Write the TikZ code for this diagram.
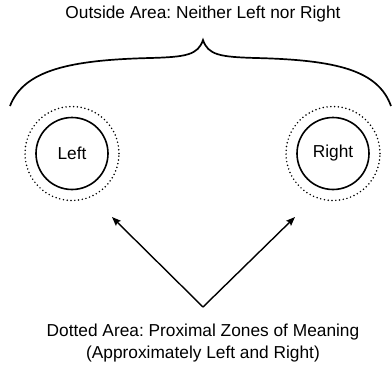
\documentclass[tikz,border=0pt]{standalone}
\usepackage{fontspec}
\setmainfont{Liberation Sans}
\usepackage{tikz}
\usetikzlibrary{arrows.meta,calc}
\frenchspacing
\tikzset{
  zone/.style ={circle, draw=black, line width=1.6pt, minimum size=72pt, inner sep=0pt,
                font=\fontsize{17.3}{21}\selectfont},
  prox/.style ={circle, draw=black, line width=1.7pt, dash pattern=on 0pt off 3.8pt,
                line cap=round, minimum size=94pt, inner sep=0pt},
  lbl/.style  ={align=center, inner sep=0pt, font=\fontsize{17.3}{22}\selectfont},
  arr/.style  ={-{Stealth[length=9pt,width=7pt,inset=1.5pt]}, line width=1.4pt},
  brc/.style  ={line width=1.7pt},
}
\begin{document}
\begin{tikzpicture}[x=1pt,y=-1pt]
  \useasboundingbox (0,0) rectangle (392,365);
  % headline and the brace over both zones
  \node[lbl] (outside) at (203,14.5) {Outside Area: Neither Left nor Right};
  \draw[brc] (10,106) .. controls (24,70) and (70,60) .. (150,58)
             .. controls (186,57) and (198,55) .. (203,40)
             .. controls (208,55) and (220,57) .. (256,58)
             .. controls (336,60) and (378,70) .. (391,106);
  % the two zones
  \node[prox] (leftprox) at (72,153.5) {};
  \node[zone] (left) at (72,153.5) {Left};
  \node[prox] (rightprox) at (333,153.5) {};
  \node[zone] (right) at (333,153.5) {Right};
  % arrows to the dotted zones
  \coordinate (apex) at (203,307);
  \coordinate (ltip) at (112,217);
  \coordinate (rtip) at (295,217);
  \draw[arr] (apex) -- (ltip);
  \draw[arr] (apex) -- (rtip);
  \node[lbl] (dotted) at (203,343.5) {Dotted Area: Proximal Zones of Meaning\\(Approximately Left and Right)};
\end{tikzpicture}
\end{document}
